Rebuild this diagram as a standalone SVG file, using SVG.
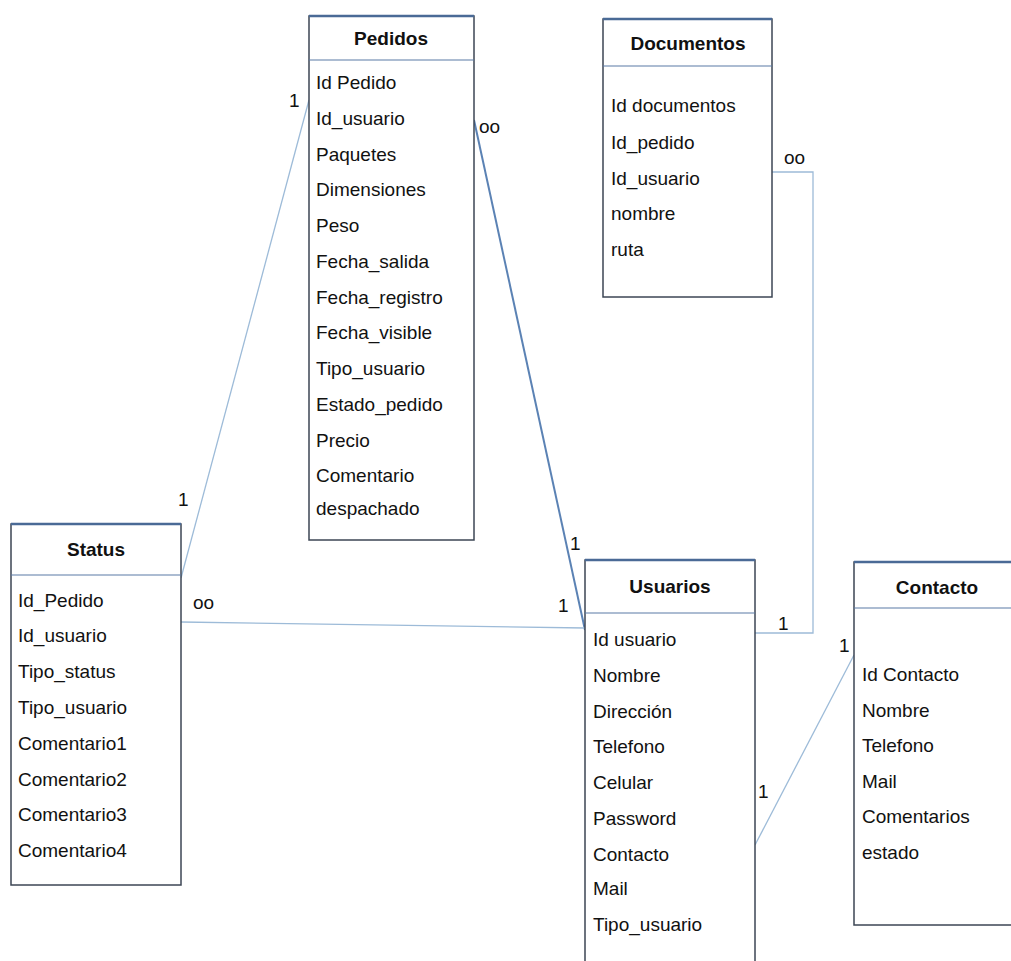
<svg xmlns="http://www.w3.org/2000/svg" width="1011" height="961" viewBox="0 0 1011 961">
<style>
.box{fill:#fff;stroke:#3c4654;stroke-width:1.5}
.top{stroke:#4a6a96;stroke-width:2.5}
.sep{stroke:#5a7aa6;stroke-width:1.2}
.t{font-family:"Liberation Sans",Arial,sans-serif;font-size:19px;fill:#111}
.h{font-family:"Liberation Sans",Arial,sans-serif;font-size:19px;font-weight:bold;fill:#111;text-anchor:middle}
.c{fill:none;stroke:#9dbbd8;stroke-width:1.3}
.cd{fill:none;stroke:#5b82b4;stroke-width:2}
.l{font-family:"Liberation Sans",Arial,sans-serif;font-size:19px;fill:#111}
</style>
<rect width="1011" height="961" fill="#fff"/>
<g id="connectors">
<line class="c" x1="309" y1="100" x2="181" y2="578"/>
<line class="cd" x1="474" y1="120" x2="585" y2="630"/>
<line class="c" x1="181" y1="622" x2="585" y2="628"/>
<polyline class="c" points="772,172 813,172 813,633 755,633"/>
<line class="c" x1="755" y1="845" x2="854" y2="655"/>
<text class="l" x="289" y="107">1</text>
<text class="l" x="178" y="506">1</text>
<text class="l" x="479" y="133">oo</text>
<text class="l" x="570" y="550">1</text>
<text class="l" x="558" y="612">1</text>
<text class="l" x="193" y="609">oo</text>
<text class="l" x="784" y="164">oo</text>
<text class="l" x="778" y="630">1</text>
<text class="l" x="758" y="798">1</text>
<text class="l" x="839" y="652">1</text>
</g>
<g id="pedidos">
<rect class="box" x="309" y="16" width="165" height="524"/>
<line class="top" x1="309" y1="16" x2="474" y2="16"/>
<line class="sep" x1="309" y1="60" x2="474" y2="60"/>
<text class="h" x="391" y="45">Pedidos</text>
<text class="t" x="316" y="89">Id Pedido</text>
<text class="t" x="316" y="125">Id_usuario</text>
<text class="t" x="316" y="161">Paquetes</text>
<text class="t" x="316" y="196">Dimensiones</text>
<text class="t" x="316" y="232">Peso</text>
<text class="t" x="316" y="268">Fecha_salida</text>
<text class="t" x="316" y="304">Fecha_registro</text>
<text class="t" x="316" y="339">Fecha_visible</text>
<text class="t" x="316" y="375">Tipo_usuario</text>
<text class="t" x="316" y="411">Estado_pedido</text>
<text class="t" x="316" y="447">Precio</text>
<text class="t" x="316" y="482">Comentario</text>
<text class="t" x="316" y="515">despachado</text>
</g>
<g id="documentos">
<rect class="box" x="603" y="19" width="169" height="278"/>
<line class="top" x1="603" y1="19" x2="772" y2="19"/>
<line class="sep" x1="603" y1="66" x2="772" y2="66"/>
<text class="h" x="688" y="50">Documentos</text>
<text class="t" x="611" y="112">Id documentos</text>
<text class="t" x="611" y="149">Id_pedido</text>
<text class="t" x="611" y="185">Id_usuario</text>
<text class="t" x="611" y="220">nombre</text>
<text class="t" x="611" y="256">ruta</text>
</g>
<g id="status">
<rect class="box" x="11" y="524" width="170" height="361"/>
<line class="top" x1="11" y1="524" x2="181" y2="524"/>
<line class="sep" x1="11" y1="575" x2="181" y2="575"/>
<text class="h" x="96" y="556">Status</text>
<text class="t" x="18" y="607">Id_Pedido</text>
<text class="t" x="18" y="642">Id_usuario</text>
<text class="t" x="18" y="678">Tipo_status</text>
<text class="t" x="18" y="714">Tipo_usuario</text>
<text class="t" x="18" y="750">Comentario1</text>
<text class="t" x="18" y="786">Comentario2</text>
<text class="t" x="18" y="821">Comentario3</text>
<text class="t" x="18" y="857">Comentario4</text>
</g>
<g id="usuarios">
<rect class="box" x="585" y="560" width="170" height="420"/>
<line class="top" x1="585" y1="560" x2="755" y2="560"/>
<line class="sep" x1="585" y1="613" x2="755" y2="613"/>
<text class="h" x="670" y="593">Usuarios</text>
<text class="t" x="593" y="646">Id usuario</text>
<text class="t" x="593" y="682">Nombre</text>
<text class="t" x="593" y="718">Dirección</text>
<text class="t" x="593" y="753">Telefono</text>
<text class="t" x="593" y="789">Celular</text>
<text class="t" x="593" y="825">Password</text>
<text class="t" x="593" y="861">Contacto</text>
<text class="t" x="593" y="895">Mail</text>
<text class="t" x="593" y="931">Tipo_usuario</text>
</g>
<g id="contacto">
<rect class="box" x="854" y="562" width="170" height="363"/>
<line class="top" x1="854" y1="562" x2="1011" y2="562"/>
<line class="sep" x1="854" y1="608" x2="1011" y2="608"/>
<text class="h" x="937" y="594">Contacto</text>
<text class="t" x="862" y="681">Id Contacto</text>
<text class="t" x="862" y="717">Nombre</text>
<text class="t" x="862" y="752">Telefono</text>
<text class="t" x="862" y="788">Mail</text>
<text class="t" x="862" y="823">Comentarios</text>
<text class="t" x="862" y="859">estado</text>
</g>
</svg>
